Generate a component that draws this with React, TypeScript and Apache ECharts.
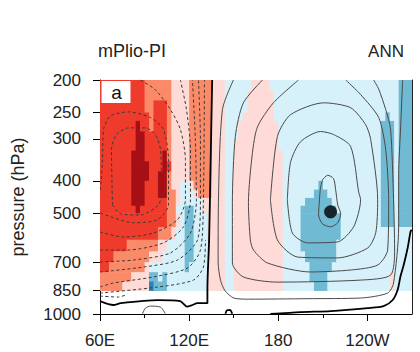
import React, { useEffect, useRef } from 'react';
import * as echarts from 'echarts';

// ---------- axes ----------
const lonMin = 60;
const lonMax = 270;
const cellWidth = 3; // degrees per fill column
const lonTicks = [60, 120, 180, 240];
const lonTickLabels = ['60E', '120E', '180', '120W'];
const lonMinorTicks = [90, 150, 210];
const pressureTicks = [200, 250, 300, 400, 500, 700, 850, 1000];

// ---------- shaded field (classes per 3-degree column, run-length coded) ----------
// pressure boundaries of the shaded rows (hPa), top to bottom
const rowEdges = [200, 215, 230, 250, 265, 285, 300, 325, 350, 375, 400, 425, 450, 475, 500, 550, 600, 650, 700, 750, 800, 850];
const fillRows = [
  'R10 S6 P4 S5 P3 L6 P4 L29 B3',
  'R10 S6 P4 S5 P3 L5 P6 L28 B3',
  'R10 S2 R3 S1 P4 S5 P3 L5 P6 L28 B3',
  'R11 S1 R3 S1 P4 S5 P3 L4 P7 L25 B1 L2 B3',
  'R8 D1 R2 S1 R3 S1 P4 S5 P3 L3 P9 L23 B3 L1 B3',
  'R8 D2 R5 S1 P4 S5 P3 L3 P9 L23 B3 L1 B3',
  'R8 D2 R5 S1 P4 S5 P3 L2 P10 L23 B3 L1 B3',
  'R7 D3 R4 D1 S1 P4 S5 P3 L2 P11 L22 B3 L1 B3',
  'R7 D4 R3 D1 R1 P4 S5 P3 L2 P11 L22 B3 L1 B3',
  'R7 D4 R2 D2 S1 P4 S5 P3 L2 P11 L22 B3 L1 B3',
  'R7 D3 R3 D2 S1 P2 L2 P1 S4 P3 L2 P11 L8 B1 L13 B3 L1 B3',
  'R7 D3 R3 D2 S2 P1 L3 P1 S3 P3 L2 P11 L7 B3 L12 B3 L1 B3',
  'R7 D3 R5 S2 P1 L5 P5 L2 P11 L5 B6 L11 B3 L1 B3',
  'R8 D1 R6 S2 L2 B2 L2 P5 L2 P11 L4 B8 L10 B3 L1 B3',
  'R15 S2 P1 L1 B2 L3 P4 L2 P11 L4 B9 L9 B3 L1 B3',
  'R13 S3 P1 L2 B2 L3 P4 L2 P11 L4 B9 L16',
  'R6 S7 P2 L4 B2 L3 P4 L2 P11 L4 B8 L17',
  'R3 S8 P3 L5 B2 L3 P4 L2 P11 L5 B7 L17',
  'R2 S8 P1 L8 B1 L4 P4 L2 P11 L6 B5 L18',
  'S7 P4 B2 L1 B1 L9 P4 L2 P11 L6 B4 L14 P1 L4',
  'S5 P6 K1 B3 L9 P4 L2 P11 L7 B3 L14 P1 L4',
];
const classKeys = ['D', 'R', 'S', 'P', 'L', 'B', 'K'];
const classColors = ['#a50f15', '#ee3b2c', '#fb8a68', '#fedbd7', '#d7f1fb', '#70bad3', '#2f7fb8'];

// ---------- contour lines [lon, hPa] ----------
const zeroWest = [[60, 915], [69, 940], [74, 928], [98.7, 909], [114, 915], [118.5, 950], [122.2, 940], [125.6, 928], [132.3, 928], [132.3, 836], [133.4, 609], [134.3, 384], [135.5, 200]];
const zeroLoop = [[144.4, 998], [145.5, 975], [147.5, 973], [149, 998]];
const zeroEast = [[269.7, 560], [269, 568], [267.1, 634], [264.4, 714], [262.3, 770], [260.3, 848], [257, 908], [250.9, 947], [240.2, 960], [215.2, 980], [194.9, 987], [174.7, 1000]];

const posU1 = [[149.8, 200], [142.4, 245], [139.7, 465], [139.5, 700], [141.1, 792], [144, 850], [150, 896], [160, 903], [200, 900], [235.4, 896], [253.6, 866], [257.6, 808], [261, 553], [261, 384], [262.3, 280], [263.7, 200]];
const posU2 = [[169.4, 200], [156.5, 234], [151.1, 295], [149.1, 465], [149.1, 704], [156.5, 775], [179.4, 803], [235.4, 792], [255.6, 765], [258.3, 644], [257.6, 456], [255.6, 281], [252.3, 245], [247.6, 213], [244.2, 200]];
const posU3 = [[193.6, 200], [176.7, 234], [166, 276], [162.6, 330], [159.9, 465], [161.2, 601], [163.3, 644], [172.7, 704], [201.6, 749], [228.7, 739], [246.9, 714], [253.6, 644], [254.3, 456], [252.3, 323], [247.6, 259], [235.4, 221], [225.4, 200]];
const posC3 = [[174.7, 456], [179.4, 295], [188.2, 254], [210.5, 234], [228.7, 242], [238.8, 272], [242.2, 301], [246.9, 456], [245.6, 572], [240.2, 635], [220, 680], [193, 676], [179.4, 601], [174.7, 456]];
const posC2 = [[186.1, 456], [188.2, 353], [194.9, 306], [208.4, 285], [217.2, 291], [228.7, 316], [234.1, 432], [235.4, 456], [230.7, 549], [220, 609], [199.6, 613], [189.5, 573], [186.1, 456]];
const posC1 = [[209.8, 397], [213.2, 385], [217.2, 394], [218.6, 425], [220, 472], [222, 502], [220, 534], [215.2, 549], [209.8, 538], [207.1, 506], [207.7, 456], [208.4, 420], [209.8, 397]];
const posBump = [[88.6, 998], [90.6, 960], [94, 947], [100.7, 954], [104, 998]];

const neg1 = [[68.4, 472], [67.7, 323], [71.1, 291], [79.2, 278], [90.6, 278], [97.3, 291], [100.7, 323], [101.4, 426], [99.4, 472], [87.2, 506], [73.8, 502], [68.4, 472]];
const neg2 = [[60.3, 499], [82.5, 534], [98.7, 523], [106.1, 472], [106.1, 346], [102.7, 281], [94, 259], [79.2, 249], [67.1, 256], [62.4, 281], [61.7, 346], [60.3, 426]];
const neg3 = [[60, 569], [75.8, 589], [96, 573], [112.1, 523], [117.5, 456], [117.5, 346], [114.1, 281], [107.4, 245], [97.3, 214], [87.2, 200]];
const neg4 = [[60, 644], [78.5, 644], [102.7, 613], [116.2, 549], [120.9, 456], [120.9, 323], [118.2, 245], [114.1, 200]];
const neg5 = [[60, 699], [82.5, 690], [107.4, 657], [120.9, 573], [124.9, 456], [124.2, 302], [122.2, 200]];
const neg6 = [[60, 749], [89.3, 724], [112.1, 690], [125.6, 601], [127.6, 456], [127.6, 302], [126.3, 200]];
const neg7 = [[60, 830], [69.1, 808], [96, 775], [118.9, 729], [127.6, 644], [129.6, 456], [130.3, 200]];
const neg8 = [[60, 866], [98.7, 831], [122.9, 792], [129.6, 724], [131, 601]];
const neg9 = [[60, 884], [72.4, 890], [78, 875]];

const maxPoint = [215.2, 495];

const FONT = '"Liberation Sans", Arial, Helvetica, sans-serif';

function buildFill() {
  const out: number[][] = [];
  fillRows.forEach((row, r) => {
    let col = 0;
    row.split(' ').forEach((tok) => {
      const cls = classKeys.indexOf(tok[0]);
      const n = parseInt(tok.slice(1), 10);
      const lon0 = lonMin + col * cellWidth;
      const lon1 = Math.min(lonMax, lonMin + (col + n) * cellWidth);
      out.push([lon0, lon1, Math.log10(rowEdges[r]), Math.log10(rowEdges[r + 1]), cls]);
      col += n;
    });
  });
  return out;
}

const toXY = (pts: number[][]) => pts.map(([lon, p]) => [lon, Math.log10(p)]);

function lineSeries(pts: number[][], color: string, width: number, dashed: boolean) {
  return {
    type: 'line',
    data: toXY(pts),
    showSymbol: false,
    symbol: 'none',
    smooth: 0.25,
    silent: true,
    z: 3,
    lineStyle: { color, width, type: dashed ? [3, 2.5] : 'solid' },
  };
}

export default function App() {
  const ref = useRef<HTMLDivElement>(null);
  useEffect(() => {
    if (!ref.current) return;
    const chart = echarts.init(ref.current, undefined, { renderer: 'svg' });
    const yMin = Math.log10(200);
    const yMax = Math.log10(1000);
    const posColor = '#4a4a4a';
    const negColor = '#3a3a3a';
    const option: any = {
      animation: false,
      backgroundColor: '#ffffff',
      grid: { left: 100, right: 8, top: 80, bottom: 38, containLabel: false },
      xAxis: [
        {
          type: 'value', min: lonMin, max: lonMax, position: 'bottom',
          axisLine: { show: true, lineStyle: { color: '#000', width: 1 } },
          axisTick: { show: true, length: 7, customValues: lonTicks, lineStyle: { color: '#000' } },
          axisLabel: {
            customValues: lonTicks, margin: 18, fontSize: 17, fontFamily: FONT, color: '#222',
            formatter: (v: number) => lonTickLabels[lonTicks.indexOf(Math.round(v))] ?? '',
          },
          splitLine: { show: false },
        },
        {
          type: 'value', min: lonMin, max: lonMax, position: 'bottom',
          axisLine: { show: false },
          axisTick: { show: true, length: 4, customValues: lonMinorTicks, lineStyle: { color: '#000' } },
          axisLabel: { show: false, customValues: lonMinorTicks },
          splitLine: { show: false },
        },
        {
          type: 'value', min: lonMin, max: lonMax, position: 'top',
          axisLine: { show: true, onZero: false, lineStyle: { color: '#222', width: 1 } },
          axisTick: { show: false }, axisLabel: { show: false }, splitLine: { show: false },
        },
      ],
      yAxis: [
        {
          type: 'value', min: yMin, max: yMax, inverse: true, position: 'left',
          name: 'pressure (hPa)', nameLocation: 'middle', nameGap: 73,
          nameTextStyle: { fontSize: 18, fontFamily: FONT, color: '#222' },
          axisLine: { show: true, onZero: false, lineStyle: { color: '#000', width: 1 } },
          axisTick: { show: true, length: 7, customValues: pressureTicks.map((p) => Math.log10(p)), lineStyle: { color: '#000' } },
          axisLabel: {
            customValues: pressureTicks.map((p) => Math.log10(p)), margin: 19, fontSize: 17, fontFamily: FONT, color: '#222',
            formatter: (v: number) => String(Math.round(Math.pow(10, v))),
          },
          splitLine: { show: false },
        },
        {
          type: 'value', min: yMin, max: yMax, inverse: true, position: 'right',
          axisLine: { show: true, onZero: false, lineStyle: { color: '#222', width: 1 } },
          axisTick: { show: false }, axisLabel: { show: false }, splitLine: { show: false },
        },
      ],
      graphic: [
        { type: 'text', x: 98, y: 51, z: 20, style: { text: 'mPlio-PI', font: `18px ${FONT}`, fill: '#222', verticalAlign: 'middle', align: 'left' } },
        { type: 'text', x: 404, y: 51, z: 20, style: { text: 'ANN', font: `17px ${FONT}`, fill: '#222', verticalAlign: 'middle', align: 'right' } },
        { type: 'rect', x: 101.5, y: 81, z: 20, shape: { width: 29, height: 22 }, style: { fill: '#ffffff' } },
        { type: 'text', x: 116.5, y: 92, z: 21, style: { text: 'a', font: `19px ${FONT}`, fill: '#111', verticalAlign: 'middle', align: 'center' } },
      ],
      series: [
        {
          type: 'custom',
          clip: true,
          silent: true,
          z: 1,
          encode: { x: [0, 1], y: [2, 3] },
          data: buildFill(),
          renderItem: (_params: any, api: any) => {
            const a = api.coord([api.value(0), api.value(2)]);
            const b = api.coord([api.value(1), api.value(3)]);
            return {
              type: 'rect',
              shape: {
                x: Math.min(a[0], b[0]),
                y: Math.min(a[1], b[1]),
                width: Math.abs(b[0] - a[0]) + 0.6,
                height: Math.abs(b[1] - a[1]) + 0.6,
              },
              style: { fill: classColors[api.value(4)] },
            };
          },
        },
        lineSeries(neg1, negColor, 1, true),
        lineSeries(neg2, negColor, 1, true),
        lineSeries(neg3, negColor, 1, true),
        lineSeries(neg4, negColor, 1, true),
        lineSeries(neg5, negColor, 1, true),
        lineSeries(neg6, negColor, 1, true),
        lineSeries(neg7, negColor, 1, true),
        lineSeries(neg8, negColor, 1, true),
        lineSeries(neg9, negColor, 1, true),
        lineSeries(posU1, posColor, 1, false),
        lineSeries(posU2, posColor, 1, false),
        lineSeries(posU3, posColor, 1, false),
        lineSeries(posC3, posColor, 1, false),
        lineSeries(posC2, posColor, 1, false),
        lineSeries(posC1, posColor, 1, false),
        lineSeries(posBump, posColor, 1, false),
        lineSeries(zeroWest, '#000', 1.8, false),
        lineSeries(zeroLoop, '#000', 1.8, false),
        lineSeries(zeroEast, '#000', 1.8, false),
        {
          type: 'scatter',
          data: [[maxPoint[0], Math.log10(maxPoint[1])]],
          symbolSize: 13,
          itemStyle: { color: '#000' },
          z: 5,
          silent: true,
        },
      ],
    };
    chart.setOption(option);
    return () => chart.dispose();
  }, []);
  return (
    <div
      ref={ref}
      style={{ position: 'fixed', left: 0, top: 0, width: 420, height: 352, background: '#fff' }}
    />
  );
}
